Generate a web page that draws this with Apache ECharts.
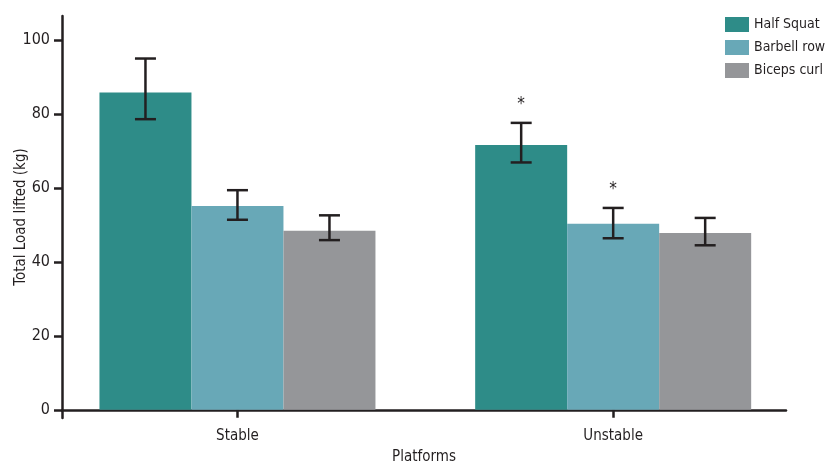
<!DOCTYPE html>
<html>
<head>
<meta charset="utf-8">
<script src="https://cdn.jsdelivr.net/npm/echarts@6/dist/echarts.min.js"></script>
<style>
  html, body { margin: 0; padding: 0; background: #ffffff; }
  #chart { width: 826px; height: 462px; }
</style>
</head>
<body>
<div id="chart"></div>
<script>
// Platform groups and exercises
const platforms = ['Stable', 'Unstable'];
const exercises = ['Half Squat', 'Barbell row', 'Biceps curl'];

// Mean total load lifted (kg) per platform
const halfSquat = [85.8, 71.6];
const barbellRow = [55.1, 50.3];
const bicepsCurl = [48.4, 47.8];

// Error bar bounds (kg)
const halfSquatLow = [78.6, 66.9];
const halfSquatHigh = [95.0, 77.6];
const barbellRowLow = [51.4, 46.4];
const barbellRowHigh = [59.4, 54.6];
const bicepsCurlLow = [45.9, 44.5];
const bicepsCurlHigh = [52.6, 51.9];

// Significance markers
const halfSquatSig = ['', '*'];
const barbellRowSig = ['', '*'];
const bicepsCurlSig = ['', ''];

// Axis ticks
const yTicks = [0, 20, 40, 60, 80, 100];
const xTicks = [0, 1];

const FONT = "'Liberation Sans Narrow', 'DejaVu Sans Condensed', 'Roboto Condensed', sans-serif";
const INK = '#231f20';
const COLORS = ['#2e8c88', '#68a8b7', '#959699'];
const BAR_W = 92;
const CAP_W = 21;

const means = [halfSquat, barbellRow, bicepsCurl];
const lows = [halfSquatLow, barbellRowLow, bicepsCurlLow];
const highs = [halfSquatHigh, barbellRowHigh, bicepsCurlHigh];
const sigs = [halfSquatSig, barbellRowSig, bicepsCurlSig];

const barSeries = exercises.map((name, k) => ({
  name: name,
  type: 'bar',
  barWidth: BAR_W,
  barGap: '0%',
  itemStyle: { color: COLORS[k] },
  data: means[k].map((v, i) => [i, v])
}));

const errorSeries = exercises.map((name, k) => ({
  id: 'err' + k,
  type: 'custom',
  z: 5,
  silent: true,
  encode: { x: 0, y: [1, 2] },
  data: lows[k].map((lo, i) => [i, lo, highs[k][i]]),
  renderItem: function (params, api) {
    const x = api.value(0);
    const pLo = api.coord([x, api.value(1)]);
    const pHi = api.coord([x, api.value(2)]);
    const cx = pLo[0] + (k - 1) * BAR_W;
    const h = CAP_W / 2;
    const ls = { stroke: INK, lineWidth: 2.5 };
    const children = [
      { type: 'line', shape: { x1: cx, y1: pLo[1], x2: cx, y2: pHi[1] }, style: ls },
      { type: 'line', shape: { x1: cx - h, y1: pLo[1], x2: cx + h, y2: pLo[1] }, style: ls },
      { type: 'line', shape: { x1: cx - h, y1: pHi[1], x2: cx + h, y2: pHi[1] }, style: ls }
    ];
    const mark = sigs[k][params.dataIndex];
    if (mark) {
      children.push({
        type: 'text',
        style: {
          x: cx, y: pHi[1] - 18, text: mark,
          fill: INK, font: '17px ' + FONT,
          align: 'center', verticalAlign: 'middle'
        }
      });
    }
    return { type: 'group', children: children };
  }
}));

const chart = echarts.init(document.getElementById('chart'), null, { renderer: 'canvas' });
chart.setOption({
  animation: false,
  backgroundColor: '#ffffff',
  textStyle: { fontFamily: FONT, color: INK },
  grid: { left: 62, right: 40, top: 16, height: 402, outerBoundsMode: 'none', containLabel: false },
  legend: {
    data: exercises,
    orient: 'vertical',
    left: 720,
    top: 12,
    itemWidth: 24,
    itemHeight: 15,
    itemGap: 8,
    icon: 'rect',
    textStyle: { fontFamily: FONT, fontSize: 14, color: INK }
  },
  xAxis: {
    type: 'value',
    min: -0.467,
    max: 1.46,
    name: 'Platforms',
    nameLocation: 'middle',
    nameGap: 32,
    nameMoveOverlap: false,
    nameTextStyle: { fontFamily: FONT, fontSize: 15, color: INK },
    axisLine: { show: true, onZero: true, lineStyle: { color: INK, width: 2.5 } },
    axisTick: { show: true, customValues: xTicks, length: 8, lineStyle: { color: INK, width: 2.5 } },
    axisLabel: {
      customValues: xTicks,
      margin: 11,
      fontFamily: FONT, fontSize: 15, color: INK,
      formatter: v => platforms[Math.round(v)]
    },
    splitLine: { show: false }
  },
  yAxis: {
    type: 'value',
    min: -2.2,
    max: 106.5,
    name: 'Total Load lifted (kg)',
    nameLocation: 'middle',
    nameGap: 33,
    nameMoveOverlap: false,
    nameTextStyle: { fontFamily: FONT, fontSize: 15, color: INK },
    axisLine: { show: true, onZero: false, lineStyle: { color: INK, width: 2.5 } },
    axisTick: { show: true, customValues: yTicks, length: 8, lineStyle: { color: INK, width: 2.5 } },
    axisLabel: { customValues: yTicks, margin: 12, fontFamily: FONT, fontSize: 16, color: INK },
    splitLine: { show: false }
  },
  series: barSeries.concat(errorSeries)
});
</script>
</body>
</html>
